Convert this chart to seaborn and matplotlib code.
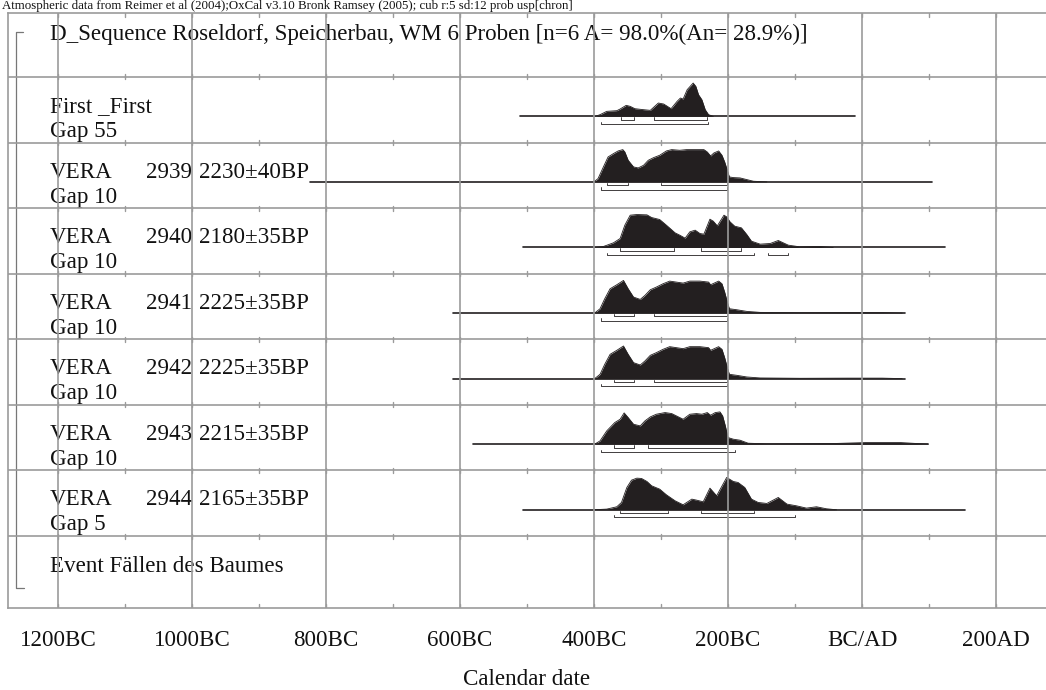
import numpy as np
import matplotlib
matplotlib.use("Agg")
import matplotlib.pyplot as plt
import seaborn as sns

# --- data (years: negative = BC) ---
caption = ("Atmospheric data from Reimer et al (2004);OxCal v3.10 Bronk Ramsey (2005); "
           "cub r:5 sd:12 prob usp[chron]")
header = "D_Sequence Roseldorf, Speicherbau, WM 6 Proben [n=6 A= 98.0%(An= 28.9%)]"
tick_years = [-1200, -1000, -800, -600, -400, -200, 0, 200]
tick_labels = ["1200BC", "1000BC", "800BC", "600BC", "400BC", "200BC", "BC/AD", "200AD"]

row_names = ["First _First", "VERA", "VERA", "VERA", "VERA", "VERA", "VERA"]
row_lab = ["", "2939", "2940", "2941", "2942", "2943", "2944"]
row_dates = ["", "2230±40BP", "2180±35BP", "2225±35BP", "2225±35BP", "2215±35BP", "2165±35BP"]
row_gaps = ["Gap 55", "Gap 10", "Gap 10", "Gap 10", "Gap 10", "Gap 10", "Gap 5"]
event_label = "Event Fällen des Baumes"

first_years = [-398, -391, -381, -366, -361, -352, -346, -339, -326, -316, -304, -296,
               -285, -276, -271, -267, -261, -252, -248, -244, -239, -234, -229, -222]
first_dens = [0, 0.05, 0.15, 0.17, 0.22, 0.33, 0.30, 0.23, 0.20, 0.18, 0.40, 0.37,
              0.23, 0.45, 0.55, 0.52, 0.80, 1.00, 0.90, 0.65, 0.50, 0.20, 0.05, 0]

v2939_years = [-400, -394, -386, -379, -371, -364, -357, -354, -349, -341, -334, -326,
               -319, -311, -302, -292, -284, -272, -262, -247, -236, -231, -226, -221,
               -214, -209, -205, -201, -198, -192, -182, -172, -162, -142]
v2939_dens = [0, 0.10, 0.45, 0.75, 0.85, 0.93, 0.97, 0.90, 0.65, 0.45, 0.42, 0.50,
              0.65, 0.73, 0.80, 0.93, 0.97, 0.95, 0.97, 0.97, 0.97, 0.90, 0.78, 0.87,
              0.93, 0.80, 0.60, 0.35, 0.15, 0.13, 0.12, 0.07, 0.02, 0]

v2940_years = [-401, -386, -371, -361, -354, -346, -336, -321, -314, -302, -292, -279,
               -272, -264, -257, -249, -242, -236, -227, -222, -216, -206, -202, -197,
               -190, -180, -172, -165, -152, -137, -125, -110, -93, -63, -43]
v2940_dens = [0, 0.03, 0.14, 0.27, 0.67, 0.97, 0.99, 0.98, 0.90, 0.84, 0.67, 0.44,
              0.37, 0.28, 0.47, 0.52, 0.42, 0.40, 0.85, 0.79, 0.65, 0.97, 0.92, 0.77,
              0.64, 0.59, 0.39, 0.19, 0.10, 0.12, 0.21, 0.07, 0.02, 0.03, 0]

v2941_years = [-399, -391, -384, -376, -366, -356, -349, -341, -331, -324, -316, -307,
               -297, -287, -277, -267, -257, -242, -229, -226, -214, -209, -205, -201,
               -198, -187, -172, -152, -92, -20, 30, 60]
v2941_dens = [0, 0.13, 0.43, 0.73, 0.85, 0.98, 0.73, 0.48, 0.41, 0.53, 0.70, 0.78,
              0.88, 0.96, 0.93, 0.90, 0.96, 0.96, 0.93, 0.85, 0.96, 0.88, 0.63, 0.33,
              0.13, 0.10, 0.05, 0.02, 0.01, 0.015, 0.015, 0]

v2942_years = [-399, -391, -384, -376, -366, -356, -349, -341, -331, -324, -316, -307,
               -297, -287, -277, -267, -257, -242, -229, -226, -214, -209, -205, -201,
               -198, -187, -172, -152, -92, -20, 30, 60]
v2942_dens = [0, 0.13, 0.43, 0.73, 0.85, 0.98, 0.73, 0.48, 0.41, 0.53, 0.70, 0.78,
              0.88, 0.96, 0.93, 0.90, 0.96, 0.96, 0.93, 0.85, 0.96, 0.88, 0.63, 0.33,
              0.13, 0.10, 0.05, 0.02, 0.01, 0.015, 0.015, 0]

v2943_years = [-399, -391, -381, -369, -361, -355, -349, -341, -331, -324, -316, -307,
               -294, -284, -274, -267, -257, -247, -239, -231, -226, -219, -212, -208,
               -204, -200, -192, -182, -170, -142, -43, 7, 57, 99]
v2943_dens = [0, 0.10, 0.40, 0.65, 0.75, 0.94, 0.80, 0.60, 0.55, 0.70, 0.82, 0.90,
              0.95, 0.92, 0.82, 0.75, 0.90, 0.92, 0.90, 0.95, 0.87, 0.95, 0.97, 0.85,
              0.55, 0.20, 0.15, 0.12, 0.03, 0.01, 0.02, 0.05, 0.05, 0]

v2944_years = [-401, -381, -366, -359, -351, -344, -336, -329, -321, -314, -302, -292,
               -279, -267, -254, -247, -237, -227, -217, -202, -192, -185, -175, -165,
               -155, -142, -125, -112, -98, -83, -68, -53, -38]
v2944_dens = [0, 0.02, 0.09, 0.22, 0.67, 0.89, 0.95, 0.94, 0.85, 0.72, 0.62, 0.45,
              0.27, 0.15, 0.32, 0.29, 0.24, 0.65, 0.42, 0.97, 0.85, 0.82, 0.67, 0.32,
              0.22, 0.19, 0.37, 0.17, 0.12, 0.05, 0.09, 0.03, 0]

# baseline (line) extent of each row
line_start = [-510, -824, -506, -610, -610, -581, -506]
line_end = [-10, 104, 124, 64, 64, 98, 154]

# highest posterior density ranges
hpd68 = [[(-360, -340), (-310, -231)],
         [(-380, -350), (-300, -201)],
         [(-361, -280), (-240, -180)],
         [(-370, -340), (-310, -201)],
         [(-370, -340), (-310, -201)],
         [(-370, -340), (-320, -201)],
         [(-361, -290), (-240, -161)]]
hpd95 = [[(-390, -230)],
         [(-390, -201)],
         [(-380, -161), (-141, -110)],
         [(-390, -201)],
         [(-390, -201)],
         [(-390, -190)],
         [(-370, -100)]]

row_years = [first_years, v2939_years, v2940_years, v2941_years, v2942_years, v2943_years, v2944_years]
row_dens = [first_dens, v2939_dens, v2940_dens, v2941_dens, v2942_dens, v2943_dens, v2944_dens]

# --- style ---
sns.set_theme(style="white")
plt.rcParams['font.family'] = ['Liberation Serif', 'DejaVu Serif']
FS = 16.6
GRID = '#9b9b9b'
INK = '#231f20'
TXT = '#111111'

W, H = 1046, 690
fig = plt.figure(figsize=(W / 100, H / 100), dpi=100)
ax = fig.add_axes([8 / W, 1 - 608 / H, 1 - 8 / W, 595 / H])

ROW = 65.57          # pixels per row
px = 1 / ROW         # one pixel in row units
ax.set_xlim(-1274.6, 274.6)
ax.set_ylim(9.098, 0.024)

# distributions
PEAK = 33.3 * px
for i in range(len(row_years)):
    base = i + 1 + 0.60
    ax.plot([line_start[i], line_end[i]], [base, base], color=INK, lw=1.2, zorder=3)
    yrs = np.array(row_years[i])
    top = base - np.array(row_dens[i]) * PEAK
    ax.fill_between(yrs, base, top, color=INK, lw=0, zorder=3)
    sns.lineplot(x=yrs, y=top, color=INK, lw=0.6, ax=ax, zorder=3, sort=False)
    for lo, hi in hpd68[i]:
        yb = base + 3.3 * px
        ax.plot([lo, lo, hi, hi], [yb - 2.3 * px, yb, yb, yb - 2.3 * px], color=INK, lw=0.6, zorder=3)
    for lo, hi in hpd95[i]:
        yb = base + 7.7 * px
        ax.plot([lo, lo, hi, hi], [yb - 2.3 * px, yb, yb, yb - 2.3 * px], color=INK, lw=0.6, zorder=3)

# labels
x_name, x_lab, x_date = -1212, -1000, -989.5
ax.text(x_name, 0.436, header, fontsize=FS, va='baseline', ha='left', color=TXT)
for i in range(len(row_names)):
    r = i + 1
    ax.text(x_name, r + 0.534, row_names[i], fontsize=FS, va='baseline', color=TXT)
    if row_lab[i]:
        ax.text(x_lab, r + 0.534, row_lab[i], fontsize=FS, va='baseline', ha='right', color=TXT)
        ax.text(x_date, r + 0.534, row_dates[i], fontsize=FS, va='baseline', ha='left', color=TXT)
    ax.text(x_name, r + 0.915, row_gaps[i], fontsize=FS, va='baseline', color=TXT)
ax.text(x_name, 8.549, event_label, fontsize=FS, va='baseline', color=TXT)

# sequence bracket on the left
bx0, bx1, bx2 = -1262.7, -1252, -1250.5
ax.plot([bx1, bx0, bx0, bx2], [0.314, 0.314, 8.79, 8.79], color='#777777', lw=0.9, zorder=4)

# grid drawn over the marks
for yr in tick_years:
    ax.axvline(yr, color=GRID, lw=1.2, zorder=5)
for r in range(1, 9):
    ax.axhline(r, color=GRID, lw=1.2, zorder=5)
minor = list(range(-1200, 201, 100))
for yr in minor:
    for r in range(1, 9):
        ax.plot([yr, yr], [r - 2.5 * px, r + 2.5 * px], color=GRID, lw=1.0, zorder=5)
    ax.plot([yr, yr], [0.024, 0.024 + 4 * px], color=GRID, lw=1.0, zorder=5)
    ax.plot([yr, yr], [9.098, 9.098 - 4 * px], color=GRID, lw=1.0, zorder=5)

for side in ['left', 'top', 'bottom']:
    ax.spines[side].set_color(GRID)
    ax.spines[side].set_linewidth(1.2)
    ax.spines[side].set_zorder(6)
ax.spines['right'].set_visible(False)

ax.set_xticks(tick_years)
ax.set_xticklabels(tick_labels, fontsize=FS, color=TXT)
ax.set_yticks([])
ax.tick_params(axis='x', length=0, pad=15.5)
ax.grid(False)

fig.text(527 / W, 1 - 685 / H, "Calendar date", fontsize=FS, ha='center', va='baseline', color=TXT)
fig.text(2 / W, 1 - 9.5 / H, caption, fontsize=9.3, ha='left', va='baseline', color=TXT)

fig.savefig("out.png", dpi=100, facecolor='white')
